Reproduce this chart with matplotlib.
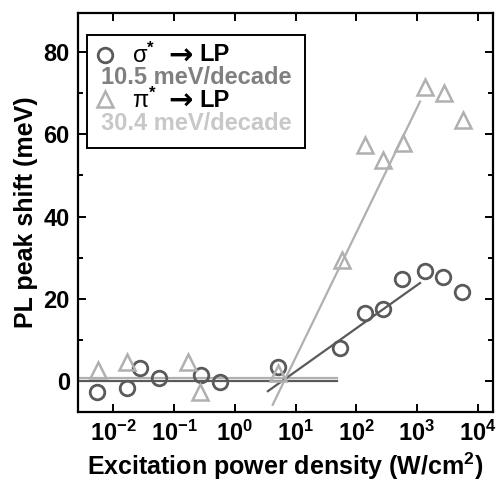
import numpy as np
import matplotlib
matplotlib.use('Agg')
from matplotlib import pyplot as plt
from matplotlib.patches import Rectangle

plt.rcParams['font.family'] = ['Liberation Sans', 'DejaVu Sans']
plt.rcParams['font.weight'] = 'bold'
plt.rcParams['mathtext.fontset'] = 'custom'
plt.rcParams['mathtext.rm'] = 'Liberation Sans:bold'
plt.rcParams['mathtext.it'] = 'Liberation Sans:bold'
plt.rcParams['mathtext.bf'] = 'Liberation Sans:bold'
plt.rcParams['mathtext.default'] = 'rm'

# sigma* -> LP (circles)
sig_x = [0.0053, 0.017, 0.027, 0.057, 0.28, 0.57, 5.2, 54, 138, 277, 560, 1350, 2700, 5500]
sig_y = [-2.6, -1.6, 3.1, 0.7, 1.5, -0.2, 3.4, 8.0, 16.5, 17.5, 24.8, 26.8, 25.3, 21.7]
# pi* -> LP (triangles)
pi_x = [0.0055, 0.017, 0.17, 0.27, 5.2, 59, 138, 277, 590, 1350, 2800, 5600]
pi_y = [2.7, 4.6, 4.6, -2.7, 1.9, 29.4, 57.4, 53.8, 57.9, 71.5, 70.1, 63.5]

# fits: slope (meV/decade), x where line crosses zero, x range
sig_slope, sig_x0, sig_range = 10.5, 6.0, (3.5, 1120)
pi_slope, pi_x0, pi_range = 30.4, 6.5, (4.2, 1120)
flat_range = (0.0026, 48)

dark = '#5a5a5a'
light = '#b0b0b0'
fs = 17

fig = plt.figure(figsize=(5.01, 4.84), dpi=100)
ax = fig.add_axes([0.156, 0.149, 0.828, 0.824])

# flat lines at low power
ax.plot(flat_range, [0.7, 0.7], color=light, lw=1.6)
ax.plot(flat_range, [0, 0], color=dark, lw=1.6)

xs = np.array(sig_range)
ax.plot(xs, sig_slope * np.log10(xs / sig_x0), color=dark, lw=1.6)
xp = np.array(pi_range)
ax.plot(xp, pi_slope * np.log10(xp / pi_x0), color=light, lw=1.6)

ax.plot(sig_x, sig_y, 'o', ms=10.5, mfc='none', mec=dark, mew=2)
ax.plot(pi_x, pi_y, '^', ms=11, mfc='none', mec=light, mew=1.8)

ax.set_xscale('log')
ax.set_xlim(10 ** -2.58, 10 ** 4.25)
ax.set_ylim(-7.5, 89.5)
ax.set_yticks([0, 20, 40, 60, 80])
ax.set_yticks([10, 30, 50, 70], minor=True)
ax.set_xticks([1e-2, 1e-1, 1e0, 1e1, 1e2, 1e3, 1e4])

for s in ax.spines.values():
    s.set_linewidth(1.6)
ax.tick_params(which='both', direction='in', top=True, right=True, width=1.4, labelsize=fs, pad=6)
ax.tick_params(which='major', length=6)
ax.tick_params(which='minor', length=3.5)

ax.set_xlabel('Excitation power density (W/cm$^{2}$)', fontsize=18, fontweight='bold', labelpad=4)
ax.set_ylabel('PL peak shift (meV)', fontsize=18, fontweight='bold', labelpad=4)

# hand-made legend box
tr = ax.transAxes
ax.add_patch(Rectangle((0.022, 0.662), 0.525, 0.283, transform=tr, fill=True, fc='white',
                       ec='black', lw=1.4, zorder=5))
ax.plot([0.065], [0.895], 'o', ms=10.5, mfc='none', mec=dark, mew=2, transform=tr, zorder=6)
ax.plot([0.065], [0.785], '^', ms=11, mfc='none', mec=light, mew=1.8, transform=tr, zorder=6)
for y, sym in [(0.895, 'σ'), (0.782, 'π')]:
    ax.text(0.13, y, sym + '$^{*}$', transform=tr, fontsize=fs, fontweight='normal', va='center', zorder=6)
    ax.text(0.203, y, '$\\rightarrow$', transform=tr, fontsize=21, math_fontfamily='dejavusans',
            fontweight='normal', va='center', zorder=6)
    ax.text(0.293, y, 'LP', transform=tr, fontsize=fs, va='center', zorder=6)
ax.text(0.055, 0.838, '10.5 meV/decade', transform=tr, fontsize=fs, va='center', color='#808080', zorder=6)
ax.text(0.055, 0.724, '30.4 meV/decade', transform=tr, fontsize=fs, va='center', color='#c8c8c8', zorder=6)

fig.savefig('out.png', dpi=100)
